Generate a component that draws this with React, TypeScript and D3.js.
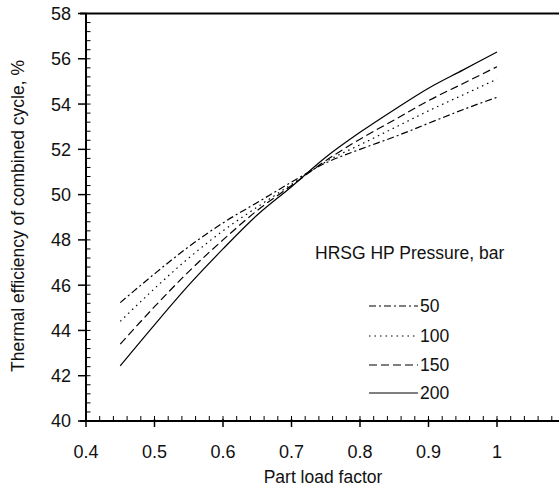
import React from "react";
import * as d3 from "d3";

const loadFactor = [0.45, 0.5, 0.55, 0.6, 0.65, 0.7, 0.75, 0.8, 0.85, 0.9, 0.95, 1.0];
const eff50 = [45.23, 46.5, 47.7, 48.75, 49.65, 50.55, 51.4, 52.0, 52.55, 53.15, 53.75, 54.3];
const eff100 = [44.4, 45.85, 47.2, 48.4, 49.45, 50.45, 51.45, 52.2, 52.95, 53.7, 54.4, 55.1];
const eff150 = [43.4, 45.05, 46.6, 48.0, 49.3, 50.4, 51.5, 52.45, 53.3, 54.15, 54.9, 55.65];
const eff200 = [42.44, 44.25, 46.0, 47.6, 49.1, 50.35, 51.65, 52.75, 53.75, 54.7, 55.5, 56.3];
const seriesNames = ["50", "100", "150", "200"];
const xTicks = [0.4, 0.5, 0.6, 0.7, 0.8, 0.9, 1.0, 1.1];
const xTickLabels = ["0.4", "0.5", "0.6", "0.7", "0.8", "0.9", "1", ""];
const yTicks = [40, 42, 44, 46, 48, 50, 52, 54, 56, 58];

const dashes = ["7,3,2,3", "1.5,4", "8,4", null];

export default function App() {
  const W = 559, H = 488;
  const x = d3.scaleLinear().domain([0.4, 1.1]).range([86, 565.5]);
  const y = d3.scaleLinear().domain([40, 58]).range([421, 13.5]);
  const all = [eff50, eff100, eff150, eff200];
  const line = d3
    .line<number>()
    .x((_, i) => x(loadFactor[i]))
    .y((d) => y(d))
    .curve(d3.curveMonotoneX);
  const font = "Liberation Sans, Arial, sans-serif";
  const xMinor = d3.range(0.4, 1.1001, 0.02);
  const yMinor = d3.range(40, 58.001, 0.4);
  const legendY = [306, 336, 365, 393];
  return (
    <svg width={W} height={H} style={{ position: "absolute", left: 0, top: 0, background: "#fff" }} fontFamily={font}>
      <line x1={80} x2={W} y1={y(58)} y2={y(58)} stroke="#000" strokeWidth={2} />
      <line x1={x(0.4)} x2={x(0.4)} y1={y(58)} y2={y(40)} stroke="#000" strokeWidth={2} />
      {yMinor.map((v, i) => (
        <line key={"ym" + i} x1={x(0.4)} x2={x(0.4) + 4.5} y1={y(v)} y2={y(v)} stroke="#000" strokeWidth={1} />
      ))}
      {yTicks.map((v) => (
        <g key={"yt" + v}>
          <line x1={x(0.4) - 8} x2={x(0.4) + 1} y1={y(v)} y2={y(v)} stroke="#000" strokeWidth={1.5} />
          <text x={71} y={y(v)} dy="0.36em" textAnchor="end" fontSize={18} fill="#111">
            {v}
          </text>
        </g>
      ))}
      <line x1={x(0.4) - 6} x2={W} y1={y(40)} y2={y(40)} stroke="#000" strokeWidth={2} />
      {xMinor.map((v, i) => (
        <line key={"xm" + i} x1={x(v)} x2={x(v)} y1={y(40)} y2={y(40) - 5} stroke="#000" strokeWidth={1} />
      ))}
      {xTicks.map((v, i) => (
        <g key={"xt" + v}>
          <line x1={x(v)} x2={x(v)} y1={y(40) - 2} y2={y(40) + 6} stroke="#000" strokeWidth={1.5} />
          {xTickLabels[i] ? (
            <text x={x(v)} y={458} textAnchor="middle" fontSize={18} fill="#111">
              {xTickLabels[i]}
            </text>
          ) : null}
        </g>
      ))}
      <text x={323} y={483} textAnchor="middle" fontSize={17.5} fill="#111">
        Part load factor
      </text>
      <text transform={`translate(24,216) rotate(-90)`} textAnchor="middle" fontSize={17.5} fill="#111">
        Thermal efficiency of combined cycle, %
      </text>
      {all.map((s, i) => (
        <path
          key={"s" + i}
          d={line(s) || ""}
          fill="none"
          stroke="#000"
          strokeWidth={1.2}
          strokeDasharray={dashes[i] || undefined}
        />
      ))}
      <text x={315} y={259} fontSize={17.5} fill="#111">
        HRSG HP Pressure, bar
      </text>
      {seriesNames.map((n, i) => (
        <g key={"lg" + n}>
          <line
            x1={369}
            x2={418}
            y1={legendY[i]}
            y2={legendY[i]}
            stroke="#000"
            strokeWidth={1.2}
            strokeDasharray={dashes[i] || undefined}
          />
          <text x={420} y={legendY[i]} dy="0.36em" fontSize={17.5} fill="#111">
            {n}
          </text>
        </g>
      ))}
    </svg>
  );
}
